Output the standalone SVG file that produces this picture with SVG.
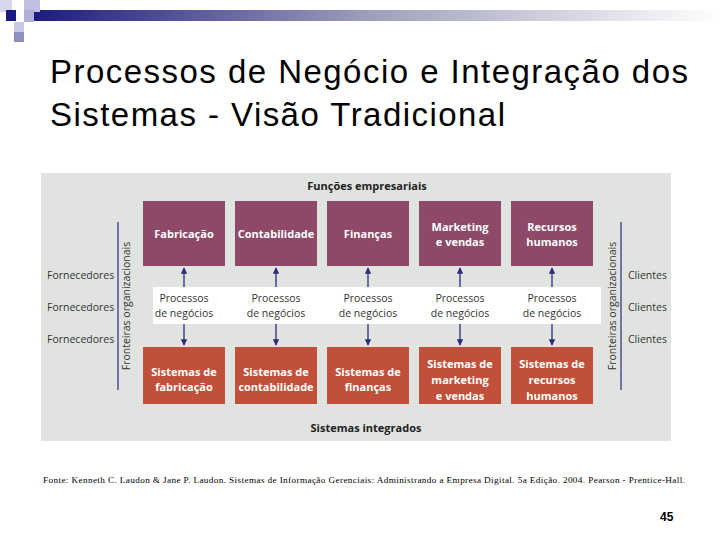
<svg xmlns="http://www.w3.org/2000/svg" width="720" height="540" viewBox="0 0 720 540">
<defs>
<linearGradient id="g" x1="0" x2="1"><stop offset="0" stop-color="#1a1a80"/><stop offset="0.5" stop-color="#a0a0bc"/><stop offset="1" stop-color="#ffffff"/></linearGradient>
<marker id="ah" viewBox="0 0 10 10" refX="9" refY="5" markerWidth="5" markerHeight="5" orient="auto"><path d="M0,0L10,5L0,10z" fill="#2a2a80"/></marker>
<style>
.f{font-family:"Liberation Sans",Arial,sans-serif}
.p{fill:#8e4868}.o{fill:#c0503a}
.bt{font-family:"Open Sans","Liberation Sans",sans-serif;font-weight:bold;font-size:11px;fill:#fff;text-anchor:middle}
.lt{font-family:"Open Sans","Liberation Sans",sans-serif;font-size:10.5px;fill:#333;text-anchor:middle}
.side{font-family:"Open Sans","Liberation Sans",sans-serif;font-size:10.5px;fill:#333}
.ar{stroke:#2a2a80;stroke-width:1.3;marker-end:url(#ah)}
</style>
</defs>
<rect width="720" height="540" fill="#fff"/>
<rect x="30" y="10" width="690" height="11" fill="url(#g)"/>
<rect x="0" y="0" width="12" height="12" fill="#d8d8ec"/>
<rect x="24" y="0" width="16" height="12" fill="#c0c0e0"/>
<rect x="6" y="10" width="10" height="11" fill="#1a1a80"/>
<rect x="24" y="10" width="10" height="12" fill="#b0b0d8"/>
<rect x="14" y="22" width="10" height="10" fill="#c8c8e4"/>
<rect x="14" y="32" width="10" height="10" fill="#9090c0"/>
<text class="f" x="50" y="83" font-size="33" textLength="638">Processos de Negócio e Integração dos</text>
<text class="f" x="50" y="126" font-size="33" textLength="455">Sistemas - Visão Tradicional</text>
<rect x="41" y="173" width="630" height="268" fill="#e1e3e0"/>
<rect x="153" y="287" width="448" height="37" fill="#fff"/>
<text x="367" y="190" class="bt" style="fill:#222">Funções empresariais</text>
<text x="366" y="432" class="bt" style="fill:#222">Sistemas integrados</text>
<g id="sides">
<line x1="118" y1="222" x2="118" y2="390" stroke="#2a2a80" stroke-width="1.2"/>
<line x1="621" y1="222" x2="621" y2="390" stroke="#2a2a80" stroke-width="1.2"/>
<text class="side" transform="translate(130,306) rotate(-90)" text-anchor="middle">Fronteiras organizacionais</text>
<text class="side" transform="translate(616,306) rotate(-90)" text-anchor="middle">Fronteiras organizacionais</text>
<text class="side" x="47" y="279">Fornecedores</text>
<text class="side" x="47" y="311">Fornecedores</text>
<text class="side" x="47" y="343">Fornecedores</text>
<text class="side" x="628" y="279">Clientes</text>
<text class="side" x="628" y="311">Clientes</text>
<text class="side" x="628" y="343">Clientes</text>
</g>
<g id="n1"><rect class="p" x="143" y="201" width="82" height="65"/><text class="bt" x="184" y="238">Fabricação</text></g>
<g id="n2"><rect class="p" x="235" y="201" width="82" height="65"/><text class="bt" x="276" y="238">Contabilidade</text></g>
<g id="n3"><rect class="p" x="327" y="201" width="82" height="65"/><text class="bt" x="368" y="238">Finanças</text></g>
<g id="n4"><rect class="p" x="419" y="201" width="82" height="65"/><text class="bt" x="460" y="231">Marketing</text><text class="bt" x="460" y="246">e vendas</text></g>
<g id="n5"><rect class="p" x="511" y="201" width="82" height="65"/><text class="bt" x="552" y="231">Recursos</text><text class="bt" x="552" y="246">humanos</text></g>
<g id="s1"><rect class="o" x="143" y="347" width="82" height="57"/><text class="bt" x="184" y="376">Sistemas de</text><text class="bt" x="184" y="391">fabricação</text></g>
<g id="s2"><rect class="o" x="235" y="347" width="82" height="57"/><text class="bt" x="276" y="376">Sistemas de</text><text class="bt" x="276" y="391">contabilidade</text></g>
<g id="s3"><rect class="o" x="327" y="347" width="82" height="57"/><text class="bt" x="368" y="376">Sistemas de</text><text class="bt" x="368" y="391">finanças</text></g>
<g id="s4"><rect class="o" x="419" y="347" width="82" height="57"/><text class="bt" x="460" y="368">Sistemas de</text><text class="bt" x="460" y="384">marketing</text><text class="bt" x="460" y="400">e vendas</text></g>
<g id="s5"><rect class="o" x="511" y="347" width="82" height="57"/><text class="bt" x="552" y="368">Sistemas de</text><text class="bt" x="552" y="384">recursos</text><text class="bt" x="552" y="400">humanos</text></g>
<g id="labels">
<text class="lt" x="184" y="302">Processos</text><text class="lt" x="184" y="317">de negócios</text>
<text class="lt" x="276" y="302">Processos</text><text class="lt" x="276" y="317">de negócios</text>
<text class="lt" x="368" y="302">Processos</text><text class="lt" x="368" y="317">de negócios</text>
<text class="lt" x="460" y="302">Processos</text><text class="lt" x="460" y="317">de negócios</text>
<text class="lt" x="552" y="302">Processos</text><text class="lt" x="552" y="317">de negócios</text>
</g>
<g id="connectors">
<line class="ar" x1="184" y1="287" x2="184" y2="268"/><line class="ar" x1="184" y1="324" x2="184" y2="345"/>
<line class="ar" x1="276" y1="287" x2="276" y2="268"/><line class="ar" x1="276" y1="324" x2="276" y2="345"/>
<line class="ar" x1="368" y1="287" x2="368" y2="268"/><line class="ar" x1="368" y1="324" x2="368" y2="345"/>
<line class="ar" x1="460" y1="287" x2="460" y2="268"/><line class="ar" x1="460" y1="324" x2="460" y2="345"/>
<line class="ar" x1="552" y1="287" x2="552" y2="268"/><line class="ar" x1="552" y1="324" x2="552" y2="345"/>
</g>
<text x="43" y="483" font-family="Liberation Serif,serif" font-size="9.2" textLength="642">Fonte:  Kenneth C. Laudon &amp; Jane P. Laudon. Sistemas de Informação Gerenciais: Administrando a Empresa Digital. 5a Edição. 2004. Pearson - Prentice-Hall.</text>
<text x="660" y="521" class="f" font-size="12" font-weight="bold">45</text>
</svg>
